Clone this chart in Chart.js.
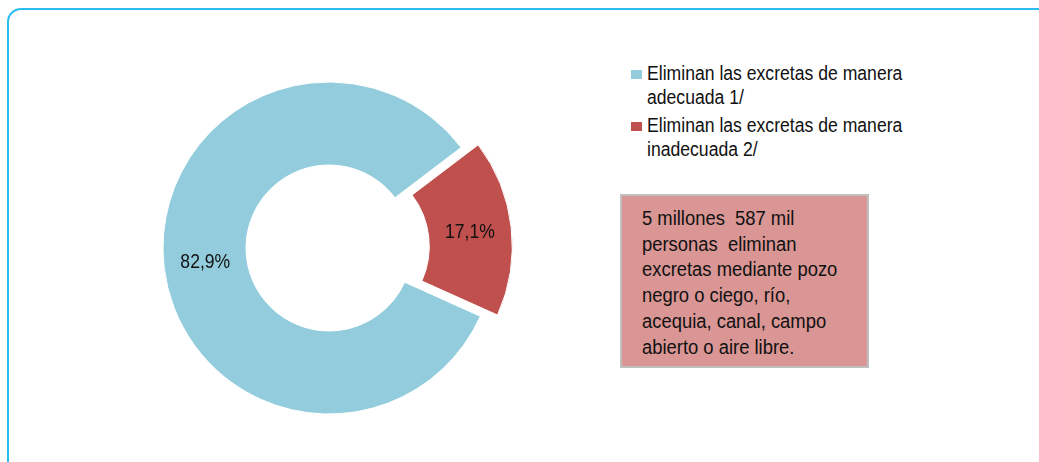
<!DOCTYPE html>
<html>
<head>
<meta charset="utf-8">
<script src="https://cdn.jsdelivr.net/npm/chart.js@4.4.0/dist/chart.umd.min.js"></script>
<style>
  body { margin: 0; width: 1039px; height: 462px; overflow: hidden; background: #fff;
         font-family: "Liberation Sans Narrow", "Liberation Sans", Arial, sans-serif; }
  #frame { position: absolute; left: 7px; top: 8px; width: 1060px; height: 480px;
           border: 2px solid #29BDEF; border-radius: 14px; }
  #chart-box { position: absolute; left: 129px; top: 48px; width: 400px; height: 400px; }
  #legend { position: absolute; left: 631px; top: 61px; font-size: 20px; line-height: 24px; color: #111; }
  .item { display: flex; align-items: flex-start; margin-bottom: 4px; }
  .swatch { width: 11px; height: 9px; margin: 9px 5px 0 0; flex: none; }
  .narrow { display: inline-block; white-space: nowrap; transform-origin: left top; }
  #legend .narrow { transform: scaleX(0.88); }
  #note { position: absolute; left: 620px; top: 194px; width: 225px; height: 150px;
          background: #D99694; border: 2px solid #BFBFBF; padding: 10px 0 10px 20px;
          font-size: 20px; line-height: 25.7px; color: #111; }
  #note .narrow { transform: scaleX(0.92); }
</style>
</head>
<body>
<div id="frame"></div>
<div id="chart-box"><canvas id="excretas-chart"></canvas></div>
<div id="legend"></div>
<div id="note"></div>
<script>
const categories = [
  ["Eliminan las excretas de manera", "adecuada 1/"],
  ["Eliminan las excretas de manera", "inadecuada 2/"]
];
const shares = [82.9, 17.1];
const colors = ["#93CDDD", "#C0504D"];
const noteLines = [
  "5 millones\u00a0 587 mil",
  "personas\u00a0 eliminan",
  "excretas mediante pozo",
  "negro o ciego, río,",
  "acequia, canal, campo",
  "abierto o aire libre."
];

// legend and note box built from the arrays above
document.getElementById("legend").innerHTML = categories.map((lines, i) =>
  '<div class="item"><span class="swatch" style="background:' + colors[i] + '"></span><span class="narrow">' +
  lines.join("<br>") + '</span></div>').join("");
document.getElementById("note").innerHTML = '<span class="narrow">' + noteLines.join("<br>") + '</span>';

const sliceLabels = {
  id: "sliceLabels",
  afterDatasetsDraw(chart) {
    const ctx = chart.ctx;
    const meta = chart.getDatasetMeta(0);
    ctx.save();
    ctx.font = '20px "Liberation Sans Narrow", "Liberation Sans", Arial, sans-serif';
    ctx.fillStyle = "#111";
    ctx.textAlign = "center";
    ctx.textBaseline = "middle";
    meta.data.forEach((arc, i) => {
      const p = arc.getProps(["x", "y", "startAngle", "endAngle", "innerRadius", "outerRadius", "circumference"]);
      const mid = (p.startAngle + p.endAngle) / 2;
      // same shift as ArcElement.draw applies for the offset option
      const off = (arc.options.offset || 0) / 4;
      const shift = off + off * (1 - Math.sin(Math.min(Math.PI, p.circumference)));
      const r = (p.innerRadius + p.outerRadius) / 2 + shift;
      const txt = shares[i].toFixed(1).replace(".", ",") + "%";
      ctx.save();
      ctx.translate(p.x + Math.cos(mid) * r, p.y + Math.sin(mid) * r);
      ctx.scale(0.88, 1);
      ctx.fillText(txt, 0, 0);
      ctx.restore();
    });
    ctx.restore();
  }
};

new Chart(document.getElementById("excretas-chart"), {
  type: "doughnut",
  data: {
    labels: categories.map(c => c.join(" ")),
    datasets: [{
      data: shares,
      backgroundColor: colors,
      borderColor: "#fff",
      borderWidth: 1,
      offset: [0, 62]
    }]
  },
  options: {
    responsive: true,
    maintainAspectRatio: false,
    animation: false,
    rotation: 114.3,
    radius: 166,
    cutout: "50%",
    plugins: {
      legend: { display: false },
      tooltip: { enabled: false }
    }
  },
  plugins: [sliceLabels]
});
</script>
</body>
</html>
